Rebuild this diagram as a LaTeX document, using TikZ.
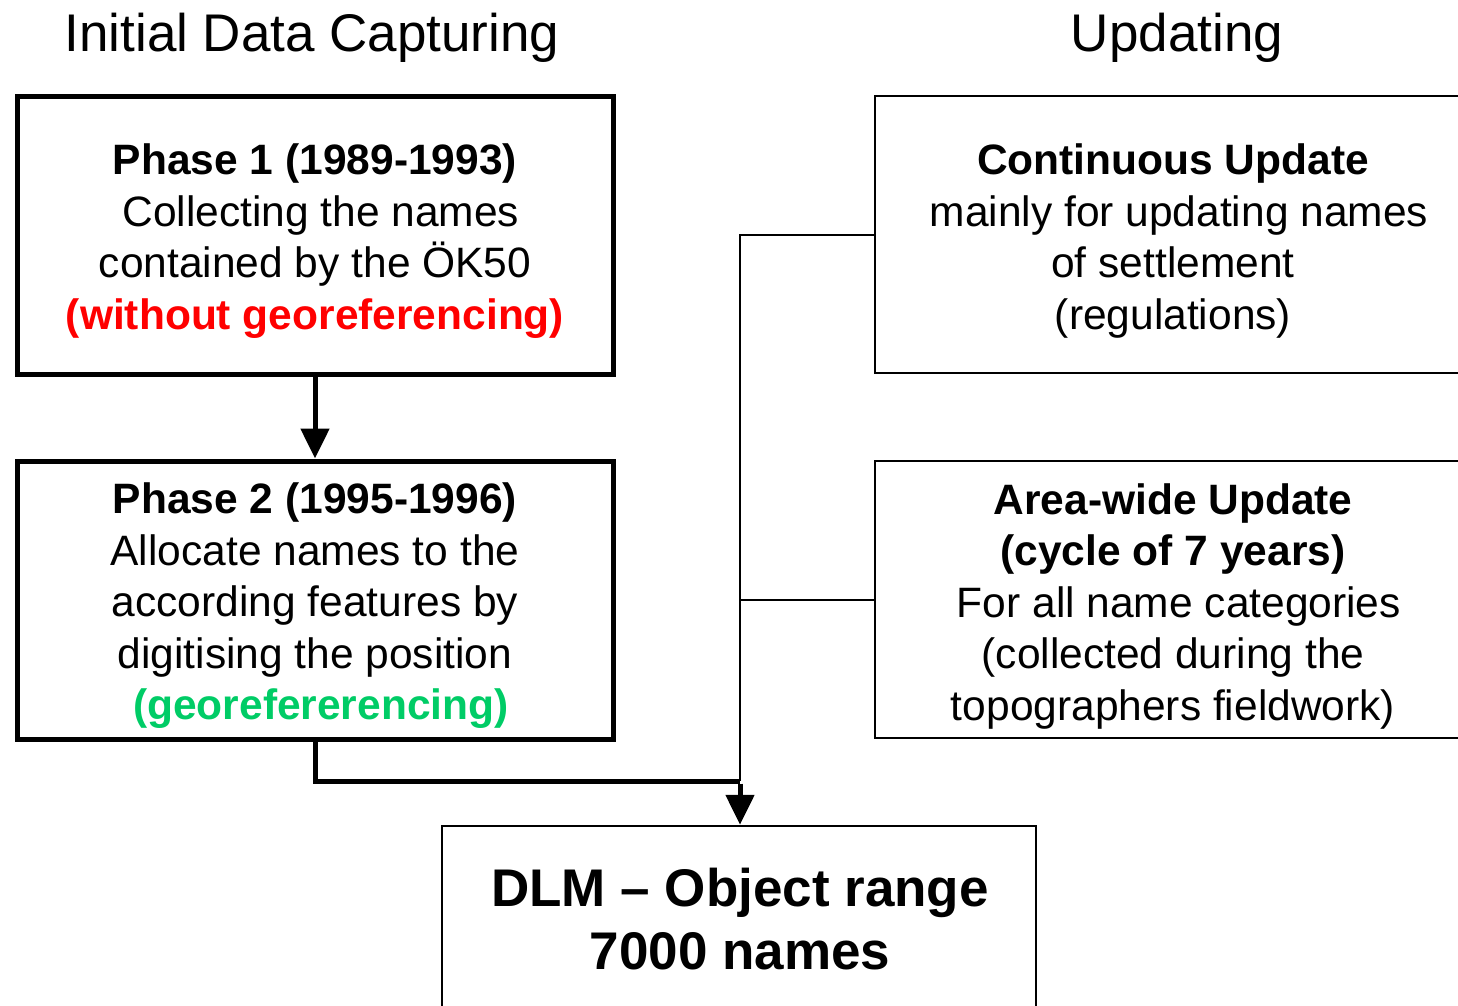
\documentclass[tikz,border=0pt]{standalone}
\usepackage{fontspec}
\setmainfont{Liberation Sans}
\usetikzlibrary{arrows.meta}
\definecolor{geogreen}{RGB}{0,204,102}
\definecolor{geored}{RGB}{255,0,0}
\tikzset{
  thickbox/.style={draw=black, line width=5pt, minimum width=596pt, minimum height=278pt, inner sep=0pt},
  thinbox/.style={draw=black, line width=2.5pt, minimum width=596pt, minimum height=277pt, inner sep=0pt},
  boxtext/.style={align=center, inner sep=0pt, font=\fontsize{42.5}{51.5}\selectfont},
  title/.style={font=\fontsize{53}{60}\selectfont, inner sep=0pt},
  thickarrow/.style={line width=5pt, -{Triangle[width=28pt,length=30pt]}},
  thinline/.style={line width=2.5pt},
}
\begin{document}
\begin{tikzpicture}[x=1pt,y=-1pt]
\path[use as bounding box, clip] (0,0) rectangle (1458,1005);
\fill[white] (0,0) rectangle (1458,1005);

\node[title] (t1) at (312,38) {Initial Data Capturing};
\node[title] (t2) at (1177,38) {Updating};

\node[thickbox] (p1) at (315,235) {};
\node[boxtext] (p1t) at (315,241) {\textbf{Phase 1 (1989-1993)}\\\ Collecting the names\\contained by the ÖK50\\\textcolor{geored}{\textbf{(without georeferencing)}}};
\node[thickbox] (p2) at (315,600) {};
\node[boxtext] (p2t) at (315,606) {\textbf{Phase 2 (1995-1996)}\\Allocate names to the\\according features by\\digitising the position\\\ \textcolor{geogreen}{\textbf{(georefererencing)}}};

\node[thinbox] (cu) at (1173,234.5) {};
\node[boxtext] (cut) at (1173,241) {\textbf{Continuous Update}\\\ mainly for updating names\\of settlement\\(regulations)};
\node[thinbox] (aw) at (1173,599.5) {};
\node[boxtext] (awt) at (1173,606) {\textbf{Area-wide Update}\\\textbf{(cycle of 7 years)}\\\ For all name categories\\(collected during the\\topographers fieldwork)};

\node[thinbox, minimum width=594pt, minimum height=300pt] (dlm) at (739,976) {};
\node[font=\fontsize{53}{63}\selectfont\bfseries, align=center, inner sep=0pt] (dlmt) at (740,919) {DLM -- Object range\\7000 names};

\coordinate (j) at (740,781);
\coordinate (vtop) at (740,235);
\coordinate (vmid) at (740,600);

\draw[thickarrow] (p1.south) -- (p2.north);
\draw[line width=5pt] (p2.south) |- (j);
\draw[thinline] (cu.west |- vtop) -- (vtop) -- (vmid) -- (j);
\draw[thinline] (aw.west |- vmid) -- (vmid);
\draw[thickarrow] ([yshift=-2.5pt]j) -- (dlm.north -| j);
\end{tikzpicture}
\end{document}
